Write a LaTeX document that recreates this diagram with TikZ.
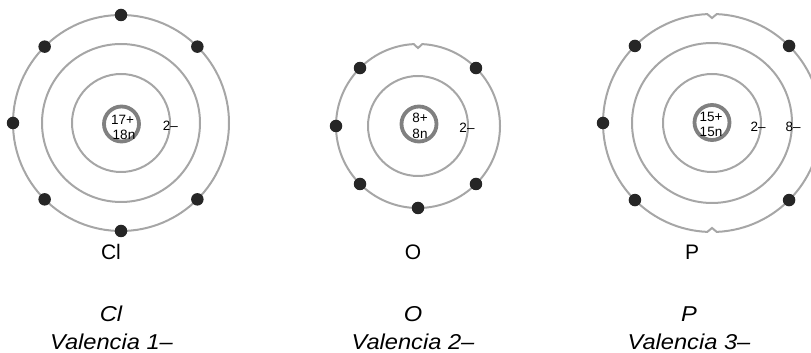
\documentclass[tikz,border=0pt]{standalone}
\usepackage{fontspec}
\setmainfont{Liberation Sans}
\newfontfamily\captionital[FakeStretch=1.1]{Liberation Sans Italic}
\usetikzlibrary{calc}
\begin{document}
\begin{tikzpicture}[x=1pt,y=1pt,
  shell/.style={draw=black!35, line width=2pt},
  nucleusring/.style={circle, draw=black!50, line width=3.8pt, minimum size=35pt, inner sep=0pt},
  electron/.style={circle, fill=black!85, inner sep=0pt, minimum size=12.5pt},
  smalltext/.style={font=\fontsize{13.5}{13.5}\selectfont, inner sep=0pt, anchor=base},
  bigtext/.style={font=\fontsize{21}{21}\selectfont, inner sep=0pt, anchor=base},
  bigital/.style={bigtext, font=\fontsize{21.5}{21.5}\captionital},
]
\useasboundingbox (0,0) rectangle (811,353);

% ---------- chlorine ----------
\coordinate (cl) at (121,230);
\draw[shell] (cl) circle[radius=49];
\draw[shell] (cl) circle[radius=79];
\draw[shell] (cl) circle[radius=108];
\node[nucleusring] (clnuc) at (121.5,229) {};
\node[smalltext] (clprot) at (122.5,228.5) {17+};
\node[smalltext] (clneut) at (124,213.5) {18n};
\node[smalltext] (clk) at (170.5,222) {2–};
\foreach \a [count=\i] in {90,135,45,180,225,315,270}
  \node[electron] (cle\i) at ($(cl)+(\a:108)$) {};

% ---------- oxygen ----------
\coordinate (ox) at (418,227);
\draw[shell] (ox) circle[radius=50];
\draw[shell] ($(ox)+(93:82)$) arc[start angle=93, end angle=447, radius=82]
  -- ($(ox)+(0,78)$) -- cycle;
\node[nucleusring] (oxnuc) at (419,229) {};
\node[smalltext] (oxprot) at (420,230) {8+};
\node[smalltext] (oxneut) at (420,214) {8n};
\node[smalltext] (oxk) at (467,220) {2–};
\foreach \a [count=\i] in {135,45,180,225,315,270}
  \node[electron] (oxe\i) at ($(ox)+(\a:82)$) {};

% ---------- phosphorus ----------
\coordinate (ph) at (712,230);
\draw[shell] (ph) circle[radius=49];
\draw[shell] (ph) circle[radius=80];
\draw[shell] ($(ph)+(92.5:109)$) arc[start angle=92.5, end angle=267.5, radius=109]
  -- ($(ph)+(0,-105)$) -- ($(ph)+(272.5:109)$)
  arc[start angle=272.5, end angle=447.5, radius=109]
  -- ($(ph)+(0,105)$) -- cycle;
\node[nucleusring] (phnuc) at (712,230.5) {};
\node[smalltext] (phprot) at (711,231) {15+};
\node[smalltext] (phneut) at (711,216) {15n};
\node[smalltext] (phk) at (758,221) {2–};
\node[smalltext] (phl) at (793,221) {8–};
\foreach \a [count=\i] in {135,45,180,225,315}
  \node[electron] (phe\i) at ($(ph)+(\a:109)$) {};

% ---------- captions ----------
\node[bigtext] (clsym) at (111,93) {Cl};
\node[bigtext] (oxsym) at (413,93) {O};
\node[bigtext] (phsym) at (692,93) {P};

\node[bigital] (clname) at (111,31) {Cl};
\node[bigital] (oxname) at (413,31) {O};
\node[bigital] (phname) at (689,31) {P};

\node[bigital] (clval) at (111.5,3) {Valencia 1–};
\node[bigital] (oxval) at (413,3) {Valencia 2–};
\node[bigital] (phval) at (689,3) {Valencia 3–};
\end{tikzpicture}
\end{document}
